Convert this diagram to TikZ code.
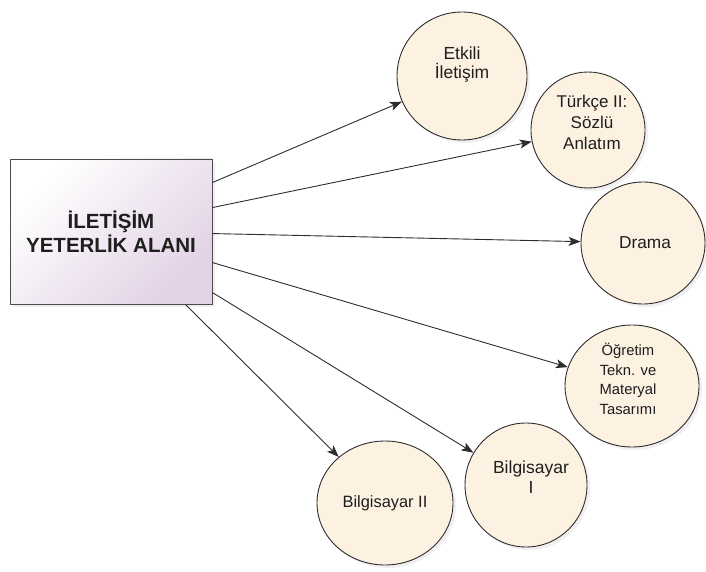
\documentclass[tikz,border=0pt]{standalone}
\usepackage{fontspec}
\setmainfont{Liberation Sans}
\usetikzlibrary{arrows.meta,shapes.geometric,shadows,calc}
\definecolor{circfill}{RGB}{253,242,226}
\definecolor{boxlav}{RGB}{226,210,229}
\definecolor{linec}{RGB}{45,45,45}
\definecolor{txt}{RGB}{30,30,30}
\tikzset{
  bubble/.style={ellipse, draw=linec, line width=0.9pt, fill=circfill, inner sep=0pt,
    drop shadow={opacity=0.12, shadow xshift=3pt, shadow yshift=-3pt}},
  lbl/.style={align=center, text=txt, inner sep=0pt},
  mainbox/.style={rectangle, draw=linec!85, line width=0.9pt, inner sep=0pt,
    top color=white, bottom color=boxlav, shading angle=45,
    drop shadow={opacity=0.12, shadow xshift=3pt, shadow yshift=-3pt}},
  link/.style={draw=linec, line width=0.9pt, -{Stealth[length=12pt,width=9pt,inset=3pt]}}
}
\begin{document}
\begin{tikzpicture}[x=1pt,y=-1pt]
\useasboundingbox (0,0) rectangle (706,572);
\node[mainbox, minimum width=202pt, minimum height=145pt, align=center,
  font=\fontsize{20.5}{24}\selectfont\bfseries, text=txt] (box) at (111,231.5)
  {İLETİŞİM\\YETERLİK ALANI};

\node[bubble, minimum width=130pt, minimum height=128pt,
  label={[lbl, font=\fontsize{17.5}{19}\selectfont, yshift=11pt]center:{Etkili\\İletişim}}] (c1) at (462,76) {};
\node[bubble, minimum width=114pt, minimum height=116pt,
  label={[lbl, font=\fontsize{17}{21}\selectfont, yshift=8pt, xshift=4pt]center:{Türkçe II:\\Sözlü\\Anlatım}}] (c2) at (588,130) {};
\node[bubble, minimum width=124pt, minimum height=122pt,
  label={[lbl, font=\fontsize{17.3}{20}\selectfont, xshift=2pt]center:{Drama}}] (c3) at (643,243) {};
\node[bubble, minimum width=134pt, minimum height=122pt,
  label={[lbl, font=\fontsize{14.8}{19.5}\selectfont, yshift=7pt, xshift=-4pt]center:{Öğretim\\Tekn. ve\\Materyal\\Tasarımı}}] (c4) at (632,386) {};
\node[bubble, minimum width=122pt, minimum height=124pt,
  label={[lbl, font=\fontsize{17.5}{20}\selectfont, yshift=7.5pt, xshift=5pt]center:{Bilgisayar\\I}}] (c5) at (526,485) {};
\node[bubble, minimum width=136pt, minimum height=124pt,
  label={[lbl, font=\fontsize{16.4}{20}\selectfont]center:{Bilgisayar II}}] (c6) at (385,503) {};

\coordinate (s1) at ($(box.north east)+(0,24)$);
\coordinate (s2) at ($(box.north east)+(0,49)$);
\coordinate (s3) at ($(box.north east)+(0,75)$);
\coordinate (s4) at ($(box.north east)+(0,104)$);
\coordinate (s5) at ($(box.north east)+(0,134)$);
\coordinate (s6) at ($(box.south east)+(-27,0)$);

\draw[link] (s1) -- (c1);
\draw[link] (s2) -- (c2);
\draw[link] (s3) -- (c3);
\draw[link] (s4) -- (c4);
\draw[link] (s5) -- (c5);
\draw[link] (s6) -- (c6);
\end{tikzpicture}
\end{document}
